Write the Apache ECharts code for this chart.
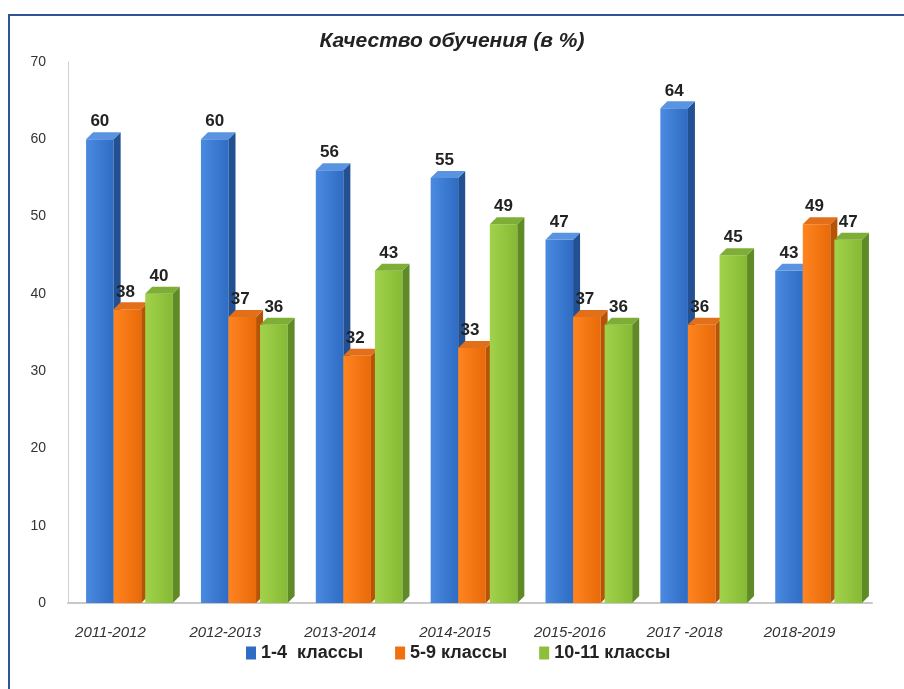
<!DOCTYPE html>
<html>
<head>
<meta charset="utf-8">
<script src="https://cdn.jsdelivr.net/npm/echarts@6/dist/echarts.min.js"></script>
<style>
  html, body { margin: 0; padding: 0; background: #fff; }
  #myGraph { width: 904px; height: 689px; }
  #frame {
    position: absolute; left: 8px; top: 14px; width: 910px; height: 690px;
    border: 2px solid #2f5597; box-sizing: border-box; pointer-events: none;
  }
</style>
</head>
<body>
<div id="myGraph"></div>
<div id="frame"></div>
<script>
var categories = ['2011-2012', '2012-2013', '2013-2014', '2014-2015', '2015-2016', '2017 -2018', '2018-2019'];
var seriesNames = ['1-4  классы', '5-9 классы', '10-11 классы'];
var grade1to4 = [60, 60, 56, 55, 47, 64, 43];
var grade5to9 = [38, 37, 32, 33, 37, 36, 49];
var grade10to11 = [40, 36, 43, 49, 36, 45, 47];
var yTicks = [0, 10, 20, 30, 40, 50, 60, 70];

// front / side / top colours per series
var palette = [
  { front: ['#4a8ae0', '#2f6cc4'], side: '#234f93', top: '#5a94e0', legend: '#2f6cc4' },
  { front: ['#ff8420', '#e86a08'], side: '#b85206', top: '#e2701a', legend: '#f07010' },
  { front: ['#a2d24c', '#86ba34'], side: '#5f8a26', top: '#7fae36', legend: '#8dc03a' }
];

var chartDom = document.getElementById('myGraph');
var myChart = echarts.init(chartDom);
var option;

function make3dBar(idx) {
  return function (params, api) {
    var cat = api.value(0);
    var val = api.value(1);
    var band = api.size([1, 0])[0];
    var top = api.coord([cat, val]);
    var base = api.coord([cat, 0]);
    var w = band * 0.24;
    var d = 7;
    var xs = top[0] - 1.5 * w + 2 + idx * w + (idx === 2 ? 4 : 0);
    var c = palette[idx];
    return {
      type: 'group',
      children: [
        {
          type: 'rect',
          shape: { x: xs, y: top[1], width: w, height: base[1] - top[1] },
          style: {
            fill: new echarts.graphic.LinearGradient(0, 0, 1, 0, [
              { offset: 0, color: c.front[0] },
              { offset: 1, color: c.front[1] }
            ])
          }
        },
        {
          type: 'polygon',
          shape: { points: [[xs + w, top[1]], [xs + w + d, top[1] - d], [xs + w + d, base[1] - d], [xs + w, base[1]]] },
          style: { fill: c.side }
        },
        {
          type: 'polygon',
          shape: { points: [[xs, top[1]], [xs + d, top[1] - d], [xs + w + d, top[1] - d], [xs + w, top[1]]] },
          style: { fill: c.top }
        },
        {
          type: 'text',
          style: {
            x: xs + w / 2 + (idx === 1 ? -2 : 0), y: top[1] - d - 2,
            text: String(val),
            align: 'center', verticalAlign: 'bottom',
            font: 'bold 17px "Liberation Sans", sans-serif',
            fill: '#222'
          }
        }
      ]
    };
  };
}

function toData(arr) {
  return arr.map(function (v, i) { return [i, v]; });
}

var allData = [grade1to4, grade5to9, grade10to11];

option = {
  backgroundColor: '#fff',
  title: {
    text: 'Качество обучения (в %)',
    left: 'center',
    top: 26,
    textStyle: {
      fontFamily: '"Liberation Sans", sans-serif',
      fontStyle: 'italic',
      fontWeight: 'bold',
      fontSize: 21,
      color: '#222'
    }
  },
  legend: {
    bottom: 22,
    left: 465 - 224,
    itemWidth: 10,
    itemHeight: 13,
    itemGap: 32,
    icon: 'rect',
    data: seriesNames.map(function (n, i) {
      return { name: n, itemStyle: { color: palette[i].legend } };
    }),
    textStyle: {
      fontFamily: '"Liberation Sans", sans-serif',
      fontWeight: 'bold',
      fontSize: 18,
      color: '#222'
    }
  },
  grid: { left: 68, right: 32, top: 62, bottom: 86 },
  xAxis: {
    type: 'category',
    data: categories,
    axisLine: { lineStyle: { color: '#c8c8c8', width: 2 } },
    axisTick: { show: false },
    axisLabel: {
      margin: 22,
      fontFamily: '"Liberation Sans", sans-serif',
      fontStyle: 'italic',
      fontSize: 15,
      color: '#333',
      padding: [0, 30, 0, 0]
    }
  },
  yAxis: {
    type: 'value',
    min: yTicks[0],
    max: yTicks[yTicks.length - 1],
    interval: 10,
    axisLine: { show: true, lineStyle: { color: '#d0d0d0' } },
    axisTick: { show: false },
    splitLine: { show: false },
    axisLabel: {
      margin: 22,
      fontFamily: '"Liberation Sans", sans-serif',
      fontSize: 14,
      color: '#333'
    }
  },
  series: seriesNames.map(function (n, i) {
    return {
      name: n,
      type: 'custom',
      renderItem: make3dBar(i),
      encode: { x: 0, y: 1 },
      itemStyle: { color: palette[i].legend },
      data: toData(allData[i]),
      z: 2 + i
    };
  })
};

option && myChart.setOption(option);
</script>
</body>
</html>
